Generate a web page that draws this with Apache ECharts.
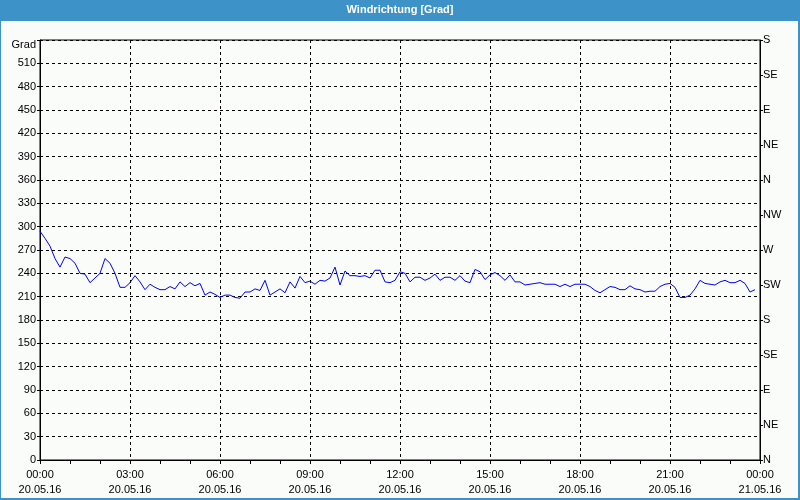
<!DOCTYPE html>
<html>
<head>
<meta charset="utf-8">
<script src="https://cdn.jsdelivr.net/npm/echarts@6/dist/echarts.min.js"></script>
<style>
html,body{margin:0;padding:0;background:#fff;}
#c{width:800px;height:500px;}
</style>
</head>
<body>
<div id="c"></div>
<script>
const title = 'Windrichtung [Grad]';
const stepMinutes = 10;
const values = [294,285,275,259,248,261,259,253,240,239,228,234,240,259,253,240,222,222,228,237,229,219,226,222,219,219,223,220,229,223,228,224,227,212,216,213,
209,212,212,209,208,216,216,220,218,231,212,216,220,215,229,221,236,228,230,226,231,230,234,248,225,243,237,237,236,237,234,244,244,229,228,231,
242,240,229,235,235,231,234,239,231,235,235,231,237,230,228,245,242,232,238,241,237,231,238,229,229,225,226,227,228,226,226,226,223,226,223,226,
226,226,223,218,215,219,223,222,219,219,224,220,219,216,217,217,223,226,227,222,209,209,212,220,231,227,226,225,229,231,228,228,231,227,216,219];
const hourLabels = ['00:00','03:00','06:00','09:00','12:00','15:00','18:00','21:00','00:00'];
const dateLabels = ['20.05.16','20.05.16','20.05.16','20.05.16','20.05.16','20.05.16','20.05.16','20.05.16','21.05.16'];
const compassLabels = ['N','NE','E','SE','S','SW','W','NW','N','NE','E','SE','S'];
const yUnit = 'Grad';

const seriesData = values.map((v, i) => [i * stepMinutes, v]);
const font = 'Liberation Sans Narrow, Liberation Sans, Arial, sans-serif';

const chart = echarts.init(document.getElementById('c'), null, {renderer: 'canvas'});
chart.setOption({
  animation: false,
  backgroundColor: '#f9fcf9',
  title: {
    text: title, left: 'center', top: 0, padding: [4, 5, 0, 5],
    textStyle: {color: '#ffffff', fontSize: 11, fontWeight: 'bold', fontFamily: font}
  },
  graphic: [
    {type: 'rect', z: -1, shape: {x: 0, y: 0, width: 800, height: 21}, style: {fill: '#3d92c8'}},
    {type: 'rect', shape: {x: 0, y: 0, width: 1, height: 500}, style: {fill: '#3d92c8'}},
    {type: 'rect', shape: {x: 798, y: 0, width: 2, height: 500}, style: {fill: '#3d92c8'}},
    {type: 'rect', shape: {x: 0, y: 498, width: 800, height: 2}, style: {fill: '#3d92c8'}}
  ],
  grid: {left: 40, right: 40, top: 40, bottom: 40, show: true, borderColor: '#000', borderWidth: 1, backgroundColor: 'transparent'},
  xAxis: {
    type: 'value', min: 0, max: 1440, interval: 180,
    axisLine: {show: true, lineStyle: {color: '#000', width: 1}},
    axisTick: {show: true, length: 4, lineStyle: {color: '#000'}},
    minorTick: {show: true, splitNumber: 3, length: 4, lineStyle: {color: '#000'}},
    splitLine: {show: true, lineStyle: {color: '#000', type: [3, 3], width: 1}},
    axisLabel: {
      margin: 7, color: '#000', fontSize: 11, fontFamily: font, lineHeight: 15,
      formatter: v => { const k = Math.round(v / 180); return hourLabels[k] + '\n' + dateLabels[k]; }
    }
  },
  yAxis: [
    {
      type: 'value', min: 0, max: 540, interval: 30, position: 'left',
      axisLine: {show: true, lineStyle: {color: '#000'}},
      axisTick: {show: true, length: 3, lineStyle: {color: '#000'}},
      splitLine: {show: true, lineStyle: {color: '#000', type: [3, 3], width: 1}},
      axisLabel: {
        margin: 4, color: '#000', fontSize: 11, fontFamily: font,
        formatter: v => v === 540 ? '{g|' + yUnit + '}' : String(v),
        rich: {g: {fontSize: 11, fontFamily: font, color: '#000', padding: [10, 0, 0, 0]}}
      }
    },
    {
      type: 'value', min: 0, max: 540, interval: 45, position: 'right',
      axisLine: {show: true, lineStyle: {color: '#000'}},
      axisTick: {show: true, length: 3, lineStyle: {color: '#000'}},
      splitLine: {show: false},
      axisLabel: {
        margin: 3, color: '#000', fontSize: 11, fontFamily: font,
        formatter: v => compassLabels[Math.round(v / 45)]
      }
    }
  ],
  series: [{
    type: 'line', data: seriesData, yAxisIndex: 0,
    showSymbol: false, symbol: 'none',
    lineStyle: {color: '#0000ff', width: 1}
  }]
});
</script>
</body>
</html>
